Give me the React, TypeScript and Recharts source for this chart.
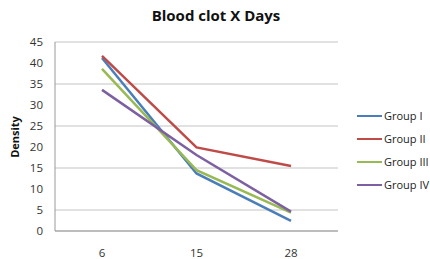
import React from 'react';
import { LineChart, Line, XAxis, YAxis, CartesianGrid } from 'recharts';

const days = ['6', '15', '28'];
const groupI = [41.2, 13.7, 2.4];
const groupII = [41.7, 19.9, 15.5];
const groupIII = [38.6, 14.5, 4.4];
const groupIV = [33.6, 18.1, 4.6];
const yTicks = [0, 5, 10, 15, 20, 25, 30, 35, 40, 45];

const series = [
  { key: 'g1', name: 'Group I', color: '#4a7ebb' },
  { key: 'g2', name: 'Group II', color: '#be4b48' },
  { key: 'g3', name: 'Group III', color: '#98b954' },
  { key: 'g4', name: 'Group IV', color: '#7d60a0' },
];

const data = days.map((d, i) => ({
  day: d,
  g1: groupI[i],
  g2: groupII[i],
  g3: groupIII[i],
  g4: groupIV[i],
}));

const font = '"Open Sans", "Liberation Sans", sans-serif';

export default function App() {
  return (
    <div style={{ position: 'absolute', left: 0, top: 0, width: 430, height: 259, background: '#fff', fontFamily: font }}>
      <div style={{ position: 'absolute', left: 0, top: 5, width: 432, textAlign: 'center', fontSize: 15, fontWeight: 700, color: '#111' }}>
        Blood clot X Days
      </div>
      <div
        style={{
          position: 'absolute', left: 14, top: 137, fontSize: 11, fontWeight: 700, color: '#111',
          transform: 'translate(-50%, -50%) rotate(-90deg)', whiteSpace: 'nowrap',
        }}
      >
        Density
      </div>
      {/* legend */}
      <div style={{ position: 'absolute', left: 357, top: 104, fontSize: 11, color: '#222' }}>
        {series.map(s => (
          <div key={s.key} style={{ display: 'flex', alignItems: 'center', height: 23 }}>
            <span style={{ display: 'inline-block', width: 25, height: 2, background: s.color, marginRight: 2 }} />
            <span>{s.name}</span>
          </div>
        ))}
      </div>
      <LineChart width={430} height={259} data={data} margin={{ top: 42, right: 92, bottom: 0, left: 25 }}>
        <CartesianGrid vertical={false} stroke="#c4c4c4" />
        <XAxis
          dataKey="day"
          stroke="#999"
          tickLine={false}
          height={28}
          tickMargin={12}
          padding={{ left: 47, right: 47 }}
          tick={{ fontSize: 11.5, fill: '#333', fontFamily: font }}
        />
        <YAxis
          domain={[0, 45]}
          ticks={yTicks}
          width={30}
          stroke="#999"
          tickLine={false}
          tickMargin={6}
          tick={{ fontSize: 11.5, fill: '#333', fontFamily: font }}
        />
        {series.map(s => (
          <Line
            key={s.key}
            dataKey={s.key}
            name={s.name}
            stroke={s.color}
            strokeWidth={2.5}
            dot={false}
            isAnimationActive={false}
          />
        ))}
      </LineChart>
    </div>
  );
}
